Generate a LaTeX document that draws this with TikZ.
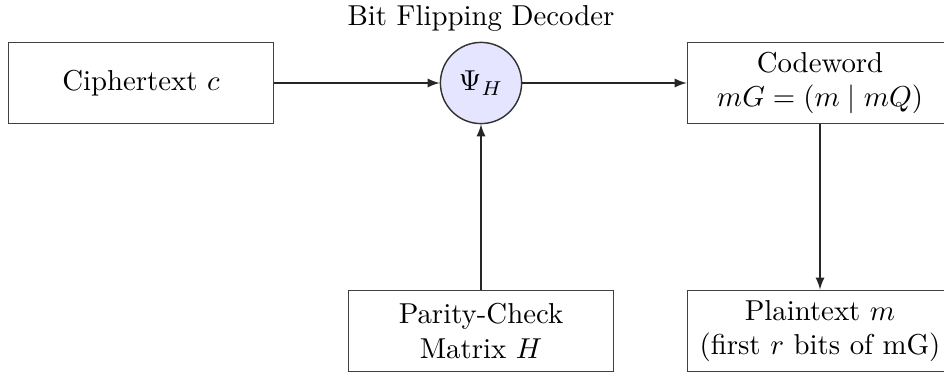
\documentclass[tikz,border=0pt]{standalone}
\usetikzlibrary{arrows}
\begin{document}
\begin{tikzpicture}[x=0.3472pt,y=-0.3472pt,
  blockbox/.style={draw=black!75,line width=0.6pt,minimum width=92pt,minimum height=28.2pt,align=center,inner sep=2pt},
  decoder/.style={circle,draw=black!80,line width=0.5pt,fill=blue!10,minimum size=28.2pt,inner sep=0pt},
  flow/.style={-latex,line width=0.45pt,draw=black!85}]
  \useasboundingbox (0,0) rectangle (944,376);
  \node[blockbox] (cipher) at (141,83) {Ciphertext $c$};
  \node[decoder] (psi) at (481,83) {$\Psi_H$};
  \node (title) at (481,18) {Bit Flipping Decoder};
  \node[blockbox] (code) at (820,83) {Codeword\\$mG = (m \mid mQ)$};
  \node[blockbox] (parity) at (481,331) {Parity-Check\\Matrix $H$};
  \node[blockbox] (plain) at (820,331) {Plaintext $m$\\(first $r$ bits of mG)};
  \draw[flow] (cipher) -- (psi);
  \draw[flow] (psi) -- (code);
  \draw[flow] (parity) -- (psi);
  \draw[flow] (code) -- (plain);
\end{tikzpicture}
\end{document}
